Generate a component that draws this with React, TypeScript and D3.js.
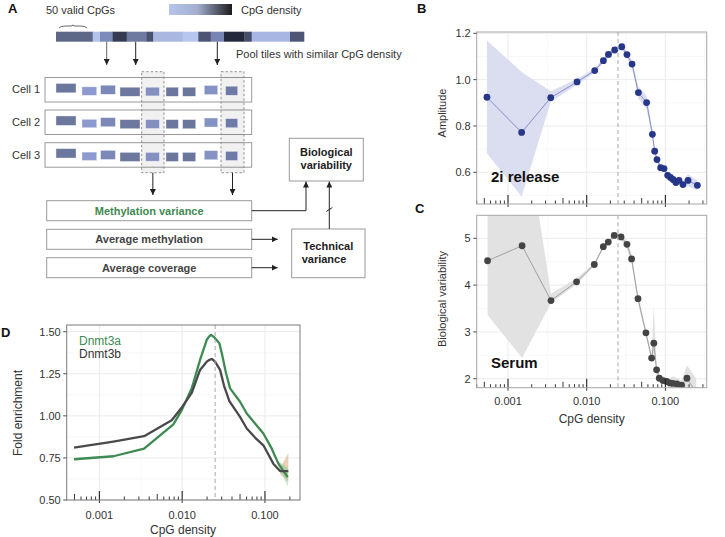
import React from 'react';
import * as d3 from 'd3';

const FONT = "'Liberation Sans', Arial, Helvetica, sans-serif";

// ---- Panel B: 2i release amplitude ----
const bDensity = [0.00054, 0.00149, 0.00349, 0.00754, 0.01265, 0.0163, 0.0189, 0.0227, 0.0279, 0.0325, 0.0377, 0.0454, 0.0578, 0.0684, 0.0731, 0.0782, 0.0871, 0.0960, 0.107, 0.116, 0.125, 0.136, 0.149, 0.167, 0.194, 0.255];
const bAmplitude = [0.924, 0.772, 0.922, 0.990, 1.039, 1.082, 1.109, 1.128, 1.142, 1.108, 1.067, 0.944, 0.901, 0.764, 0.691, 0.655, 0.620, 0.616, 0.587, 0.578, 0.569, 0.556, 0.565, 0.547, 0.565, 0.544];
const bLower = [0.681, 0.496, 0.904, 0.978, 1.030, 1.072, 1.098, 1.117, 1.130, 1.095, 1.052, 0.918, 0.872, 0.745, 0.675, 0.642, 0.607, 0.603, 0.575, 0.566, 0.557, 0.543, 0.550, 0.532, 0.540, 0.522];
const bUpper = [1.169, 1.033, 0.950, 1.003, 1.048, 1.092, 1.120, 1.139, 1.154, 1.121, 1.082, 0.970, 0.930, 0.783, 0.707, 0.668, 0.633, 0.629, 0.599, 0.590, 0.581, 0.569, 0.580, 0.562, 0.592, 0.566];

// ---- Panel C: Serum biological variability ----
const cDensity = [0.00055, 0.00151, 0.00352, 0.00744, 0.0125, 0.01626, 0.0188, 0.0224, 0.0273, 0.0325, 0.0372, 0.0449, 0.0566, 0.0668, 0.0713, 0.0773, 0.0836, 0.0931, 0.104, 0.1138, 0.124, 0.140, 0.1606, 0.188, 0.247];
const cVariability = [4.52, 4.84, 3.67, 4.07, 4.44, 4.82, 4.92, 5.06, 5.03, 4.87, 4.56, 3.71, 2.98, 2.44, 2.76, 2.19, 2.01, 1.96, 1.94, 1.91, 1.90, 1.89, 1.86, 2.01, 1.70];
const cLower = [3.36, 2.44, 3.62, 4.02, 4.40, 4.78, 4.88, 5.00, 4.96, 4.78, 4.45, 3.62, 2.90, 2.36, 2.50, 2.10, 1.94, 1.88, 1.86, 1.83, 1.82, 1.80, 1.76, 1.80, 1.40];
const cUpper = [6.5, 7.8, 3.82, 4.14, 4.48, 4.86, 4.96, 5.10, 5.10, 4.96, 4.66, 3.80, 3.06, 2.52, 3.55, 2.28, 2.08, 2.05, 2.03, 2.00, 2.05, 2.02, 1.96, 2.29, 2.00];

// ---- Panel D: fold enrichment ----
const d3aDensity = [0.000494, 0.001476, 0.003467, 0.00783, 0.00989, 0.01306, 0.01644, 0.01982, 0.02120, 0.02234, 0.02427, 0.02812, 0.0301, 0.0339, 0.03793, 0.0500, 0.0603, 0.0759, 0.0957, 0.1208, 0.1452, 0.1884];
const d3aEnrich = [0.742, 0.760, 0.805, 0.949, 1.034, 1.164, 1.332, 1.452, 1.472, 1.481, 1.468, 1.432, 1.372, 1.253, 1.163, 1.084, 1.014, 0.955, 0.895, 0.805, 0.716, 0.636];
const d3bDensity = [0.000494, 0.001476, 0.003467, 0.00748, 0.00989, 0.01306, 0.01644, 0.01982, 0.0214, 0.0228, 0.02495, 0.0287, 0.0320, 0.03715, 0.0500, 0.0603, 0.0759, 0.0957, 0.1262, 0.152, 0.1918];
const d3bEnrich = [0.811, 0.847, 0.879, 0.974, 1.050, 1.137, 1.273, 1.322, 1.333, 1.338, 1.322, 1.273, 1.180, 1.088, 0.994, 0.925, 0.871, 0.825, 0.716, 0.672, 0.672];
const d3aTailDensity = [0.1452, 0.1884];
const d3aTailLow = [0.70, 0.58];
const d3aTailHigh = [0.73, 0.69];
const d3bTailDensity = [0.152, 0.1918];
const d3bTailLow = [0.655, 0.61];
const d3bTailHigh = [0.69, 0.78];

const bYTicks = [0.6, 0.8, 1.0, 1.2];
const bYMinor = [0.5, 0.7, 0.9, 1.1];
const cYTicks = [2, 3, 4, 5];
const cYMinor = [2.5, 3.5, 4.5];
const dYTicks = [0.5, 0.75, 1.0, 1.25, 1.5];
const dYMinor = [0.625, 0.875, 1.125, 1.375];
const dYLabels = ['0.50', '0.75', '1.00', '1.25', '1.50'];
const xTicks = [0.001, 0.01, 0.1];
const xTickLabels = ['0.001', '0.010', '0.100'];
const xMinor = [Math.pow(10, -3.5), Math.pow(10, -2.5), Math.pow(10, -1.5), Math.pow(10, -0.5)];
const markerDensity = 0.025;

// ---- Panel A diagram ----
const barSegments = [
  [56, 92.7, '#5d6787'], [92.7, 100, '#b3c4ea'], [100, 112.7, '#7d8bbb'], [112.7, 126.7, '#353c52'],
  [126.7, 146.7, '#6f7aa0'], [146.7, 153.3, '#4a5070'], [153.3, 182.7, '#a9b7e1'], [182.7, 198.3, '#b7c6ee'],
  [198.3, 210.7, '#4c5472'], [210.7, 224, '#7884b2'], [224, 244.3, '#23283a'], [244.3, 251.7, '#464c6b'],
  [251.7, 290, '#a8b6e3'], [290, 304, '#4e5575'],
] as [number, number, string][];
const cellTiles = [
  [56, 76, 6, 9.3, '#6c779d'], [82, 96.7, 9.4, 8.3, '#8d9ad0'], [100.7, 115.3, 7.7, 9, '#7c88b8'],
  [120, 140, 9.7, 9, '#6e789e'], [145.7, 159.3, 9.7, 8.7, '#8390c0'], [166, 178.3, 9.7, 9, '#6c769c'],
  [182.7, 195.7, 9.7, 9, '#6c769c'], [204.3, 217.7, 8, 9, '#8592c4'], [225.7, 237.7, 8.7, 9, '#6f7aa6'],
] as [number, number, number, number, string][];
const cellNames = ['Cell 1', 'Cell 2', 'Cell 3'];
const cellTops = [77.5, 110, 142.7];
const poolArrows = [106.7, 135.7, 217.3];
const highlightCols = [[141.7, 164], [221, 244]];
const featureBoxes = [
  { label: 'Methylation variance', y: 200.7, color: '#3f8a50' },
  { label: 'Average methylation', y: 229.3, color: '#444' },
  { label: 'Average coverage', y: 257.7, color: '#444' },
];

function logTickValues(domain: [number, number]) {
  const out: { v: number; k: number }[] = [];
  for (let d = -5; d <= 1; d++) {
    for (let k = 1; k <= 9; k++) {
      const v = k * Math.pow(10, d);
      if (v >= domain[0] && v <= domain[1]) out.push({ v, k });
    }
  }
  return out;
}

type PanelProps = {
  x: d3.ScaleLogarithmic<number, number>;
  y: d3.ScaleLinear<number, number>;
  yTicks: number[];
  yMinor: number[];
  yLabels: string[];
  showXLabels: boolean;
  id: string;
  border: string;
  children?: React.ReactNode;
};

function Panel({ x, y, yTicks, yMinor, yLabels, showXLabels, id, border, children }: PanelProps) {
  const [x0, x1] = x.range();
  const [y0, y1] = y.range(); // y0 bottom, y1 top
  const dom = x.domain() as [number, number];
  const lt = logTickValues(dom);
  return (
    <g>
      <defs>
        <clipPath id={id}>
          <rect x={x0} y={y1} width={x1 - x0} height={y0 - y1} />
        </clipPath>
      </defs>
      <rect x={x0} y={y1} width={x1 - x0} height={y0 - y1} fill="#fff" />
      {yMinor.filter(v => v >= y.domain()[0] && v <= y.domain()[1]).map(v => (
        <line key={'ym' + v} x1={x0} x2={x1} y1={y(v)} y2={y(v)} stroke="#f4f4f4" strokeWidth={0.6} />
      ))}
      {xMinor.filter(v => v >= dom[0] && v <= dom[1]).map(v => (
        <line key={'xm' + v} x1={x(v)} x2={x(v)} y1={y1} y2={y0} stroke="#f4f4f4" strokeWidth={0.6} />
      ))}
      {yTicks.map(v => (
        <line key={'yg' + v} x1={x0} x2={x1} y1={y(v)} y2={y(v)} stroke="#ebebeb" strokeWidth={1} />
      ))}
      {xTicks.map(v => (
        <line key={'xg' + v} x1={x(v)} x2={x(v)} y1={y1} y2={y0} stroke="#ebebeb" strokeWidth={1} />
      ))}
      <g clipPath={`url(#${id})`}>
        {children}
        <line x1={x(markerDensity)} x2={x(markerDensity)} y1={y1} y2={y0} stroke="#a8a8a8" strokeWidth={1} strokeDasharray="4,3" />
      </g>
      {lt.map(({ v, k }) => {
        const len = k === 1 ? 9 : k === 5 ? 6 : 3.5;
        return <line key={'lt' + v} x1={x(v)} x2={x(v)} y1={y0} y2={y0 - len} stroke="#222" strokeWidth={k === 1 ? 1.1 : 0.9} />;
      })}
      {xTicks.map(v => (
        <line key={'xt' + v} x1={x(v)} x2={x(v)} y1={y0} y2={y0 + 3} stroke="#333" strokeWidth={1} />
      ))}
      <rect x={x0} y={y1} width={x1 - x0} height={y0 - y1} fill="none" stroke={border} strokeWidth={1} />
      {yTicks.map((v, i) => (
        <g key={'yt' + v}>
          <line x1={x0 - 3.5} x2={x0} y1={y(v)} y2={y(v)} stroke="#555" strokeWidth={1} />
          <text x={x0 - 6} y={y(v)} dy="0.36em" textAnchor="end" fontSize={11} fill="#333" fontFamily={FONT}>{yLabels[i]}</text>
        </g>
      ))}
      {showXLabels && xTicks.map((v, i) => (
        <text key={'xl' + v} x={x(v)} y={y0 + 17} textAnchor="middle" fontSize={11} fill="#333" fontFamily={FONT}>{xTickLabels[i]}</text>
      ))}
    </g>
  );
}

function Diagram() {
  const arrow = 'url(#arrowhead)';
  return (
    <g fontFamily={FONT}>
      <defs>
        <marker id="arrowhead" viewBox="0 0 10 10" refX="10" refY="5" markerWidth="6" markerHeight="6" orient="auto-start-reverse" markerUnits="userSpaceOnUse">
          <path d="M0,0 L10,5 L0,10 z" fill="#222" />
        </marker>
        <linearGradient id="cpgGrad" x1="0" x2="1" y1="0" y2="0">
          <stop offset="0" stopColor="#b6c5ec" />
          <stop offset="0.45" stopColor="#a3aed0" />
          <stop offset="1" stopColor="#1c1c1c" />
        </linearGradient>
      </defs>
      <text x={8} y={13} fontSize={13} fontWeight="bold" fill="#111">A</text>
      <text x={46} y={14} fontSize={11} fill="#333">50 valid CpGs</text>
      <path d="M59,28 Q60,26 66,26 L71,26 Q73,26 73,24.8 Q73,26 75,26 L80,26 Q86,26 87,28" fill="none" stroke="#444" strokeWidth={0.8} />
      <rect x={169} y={4} width={63} height={11} fill="url(#cpgGrad)" />
      <text x={241} y={14} fontSize={11} fill="#333">CpG density</text>
      {barSegments.map(([a, b, c], i) => (
        <rect key={'seg' + i} x={a} y={31.7} width={b - a + 0.3} height={10} fill={c} />
      ))}
      {poolArrows.map((px, i) => (
        <line key={'pa' + i} x1={px} x2={px} y1={41.7} y2={65} stroke={i === 0 ? '#666' : '#222'} strokeWidth={1} markerEnd={arrow} />
      ))}
      <text x={236} y={58} fontSize={11} fill="#333">Pool tiles with similar CpG density</text>
      {cellTops.map((t, r) => (
        <g key={'row' + r}>
          <text x={12} y={t + 12} dy="0.35em" fontSize={11} fill="#333">{cellNames[r]}</text>
          <rect x={45} y={t} width={206.7} height={24.5} fill="#fff" stroke="#9a9a9a" strokeWidth={1} />
        </g>
      ))}
      {highlightCols.map(([a, b], i) => (
        <rect key={'hc' + i} x={a} y={71.7} width={b - a} height={101} fill="#000" fillOpacity={0.055} stroke="#888" strokeWidth={0.9} strokeDasharray="2.5,2" />
      ))}
      {cellTops.map((t, r) => (
        <g key={'tiles' + r}>
          {cellTiles.map(([a, b, dy, h, c], i) => (
            <rect key={i} x={a} y={t + dy} width={b - a} height={h} fill={c} stroke="#e8ebf5" strokeWidth={0.4} />
          ))}
        </g>
      ))}
      {highlightCols.map(([a, b], i) => (
        <line key={'ca' + i} x1={(a + b) / 2} x2={(a + b) / 2} y1={172.7} y2={195} stroke="#222" strokeWidth={1} markerEnd={arrow} />
      ))}
      {featureBoxes.map((f, i) => (
        <g key={'fb' + i}>
          <rect x={46.7} y={f.y} width={205} height={20} fill="#fff" stroke="#9a9a9a" strokeWidth={1} />
          <text x={149.2} y={f.y + 10} dy="0.36em" textAnchor="middle" fontSize={11} fontWeight="bold" fill={f.color}>{f.label}</text>
        </g>
      ))}
      <rect x={289.3} y={138.3} width={74} height={42.7} fill="#fff" stroke="#9a9a9a" strokeWidth={1} />
      <text x={326.3} y={152} dy="0.36em" textAnchor="middle" fontSize={11} fontWeight="bold" fill="#222">Biological</text>
      <text x={326.3} y={165} dy="0.36em" textAnchor="middle" fontSize={11} fontWeight="bold" fill="#222">variability</text>
      <rect x={291.7} y={229} width={73.3} height={48.7} fill="#fff" stroke="#9a9a9a" strokeWidth={1} />
      <text x={328.3} y={246.5} dy="0.36em" textAnchor="middle" fontSize={11} fontWeight="bold" fill="#222">Technical</text>
      <text x={324} y={259.5} dy="0.36em" textAnchor="middle" fontSize={11} fontWeight="bold" fill="#222">variance</text>
      <polyline points="251.7,210.7 306,210.7 306,181.5" fill="none" stroke="#222" strokeWidth={1} markerEnd={arrow} />
      <line x1={329.3} x2={329.3} y1={229} y2={181.5} stroke="#222" strokeWidth={1} markerEnd={arrow} />
      <line x1={326.3} x2={332.3} y1={211.5} y2={207.5} stroke="#222" strokeWidth={1} />
      <line x1={251.7} x2={277.7} y1={239.3} y2={239.3} stroke="#222" strokeWidth={1} markerEnd={arrow} />
      <line x1={251.7} x2={277.7} y1={267.7} y2={267.7} stroke="#222" strokeWidth={1} markerEnd={arrow} />
    </g>
  );
}

export default function App() {
  // Panel B
  const xB = d3.scaleLog().domain([0.0004, 0.335]).range([476.7, 706.7]);
  const yB = d3.scaleLinear().domain([0.4632, 1.2056]).range([204, 32]);
  const bIdx = d3.range(bDensity.length);
  const bArea = d3.area<number>().x(i => xB(bDensity[i])).y0(i => yB(bLower[i])).y1(i => yB(bUpper[i]));
  const bLine = d3.line<number>().x(i => xB(bDensity[i])).y(i => yB(bAmplitude[i]));

  // Panel C
  const xC = d3.scaleLog().domain([0.0004, 0.335]).range([476.7, 706.7]);
  const yC = d3.scaleLinear().domain([1.808, 5.491]).range([387.7, 215.3]);
  const cIdx = d3.range(cDensity.length);
  const cArea = d3.area<number>().x(i => xC(cDensity[i])).y0(i => yC(cLower[i])).y1(i => yC(cUpper[i]));
  const cLine = d3.line<number>().x(i => xC(cDensity[i])).y(i => yC(cVariability[i]));

  // Panel D
  const xD = d3.scaleLog().domain([0.000403, 0.265]).range([66.7, 300]);
  const yD = d3.scaleLinear().domain([0.5, 1.5398]).range([500, 325]);
  const aLine = d3.line<number>().x(i => xD(d3aDensity[i])).y(i => yD(d3aEnrich[i]));
  const bLineD = d3.line<number>().x(i => xD(d3bDensity[i])).y(i => yD(d3bEnrich[i]));
  const aTail = d3.area<number>().x(i => xD(d3aTailDensity[i])).y0(i => yD(d3aTailLow[i])).y1(i => yD(d3aTailHigh[i]));
  const bTail = d3.area<number>().x(i => xD(d3bTailDensity[i])).y0(i => yD(d3bTailLow[i])).y1(i => yD(d3bTailHigh[i]));

  return (
    <svg width={725} height={537} style={{ position: 'absolute', left: 0, top: 0, background: '#fff' }} fontFamily={FONT}>
      <rect x={0} y={0} width={725} height={537} fill="#fff" />
      <Diagram />

      {/* Panel B */}
      <text x={417} y={13} fontSize={13} fontWeight="bold" fill="#111">B</text>
      <Panel x={xB} y={yB} yTicks={bYTicks} yMinor={bYMinor} yLabels={bYTicks.map(v => v.toFixed(1))} showXLabels={false} id="clipB" border="#a6a6a6">
        <path d={bArea(bIdx) || ''} fill="#d9dbef" fillOpacity={0.95} />
        <path d={bLine(bIdx) || ''} fill="none" stroke="#7f86c9" strokeWidth={0.9} />
        {bIdx.map(i => (
          <circle key={i} cx={xB(bDensity[i])} cy={yB(bAmplitude[i])} r={3.4} fill="#26378a" />
        ))}
      </Panel>
      <text x={491} y={182} fontSize={15} fontWeight="bold" fill="#111">2i release</text>
      <text transform="translate(445.5,113) rotate(-90)" textAnchor="middle" fontSize={11} fill="#333">Amplitude</text>

      {/* Panel C */}
      <text x={415} y={213} fontSize={13} fontWeight="bold" fill="#111">C</text>
      <Panel x={xC} y={yC} yTicks={cYTicks} yMinor={cYMinor} yLabels={cYTicks.map(v => String(v))} showXLabels={true} id="clipC" border="#a6a6a6">
        <path d={cArea(cIdx) || ''} fill="#e2e2e2" />
        <path d={cLine(cIdx) || ''} fill="none" stroke="#999" strokeWidth={0.9} />
        {cIdx.map(i => (
          <circle key={i} cx={xC(cDensity[i])} cy={yC(cVariability[i])} r={3.4} fill="#444" />
        ))}
      </Panel>
      <text x={491} y={368} fontSize={15} fontWeight="bold" fill="#111">Serum</text>
      <text transform="translate(445.5,299) rotate(-90)" textAnchor="middle" fontSize={11} fill="#333">Biological variability</text>
      <text x={591.7} y={423} textAnchor="middle" fontSize={12} fill="#333">CpG density</text>

      {/* Panel D */}
      <text x={1} y={337} fontSize={13} fontWeight="bold" fill="#111">D</text>
      <Panel x={xD} y={yD} yTicks={dYTicks} yMinor={dYMinor} yLabels={dYLabels} showXLabels={false} id="clipD" border="#7a7a7a">
        <path d={bTail([0, 1]) || ''} fill="#d8a97c" fillOpacity={0.55} />
        <path d={aTail([0, 1]) || ''} fill="#8cc59a" fillOpacity={0.5} />
        <path d={aLine(d3.range(d3aDensity.length)) || ''} fill="none" stroke="#3d8a52" strokeWidth={2.3} strokeLinejoin="round" />
        <path d={bLineD(d3.range(d3bDensity.length)) || ''} fill="none" stroke="#4a4a4a" strokeWidth={2.3} strokeLinejoin="round" />
      </Panel>
      {xTicks.map((v, i) => (
        <text key={'dxl' + v} x={xD(v)} y={519} textAnchor="middle" fontSize={11} fill="#333">{xTickLabels[i]}</text>
      ))}
      <text x={183} y={534} textAnchor="middle" fontSize={12} fill="#333">CpG density</text>
      <text transform="translate(22,413) rotate(-90)" textAnchor="middle" fontSize={12} fill="#333">Fold enrichment</text>
      <text x={79} y={345} fontSize={12} fill="#3d8a52">Dnmt3a</text>
      <text x={79} y={358} fontSize={12} fill="#333">Dnmt3b</text>
    </svg>
  );
}
